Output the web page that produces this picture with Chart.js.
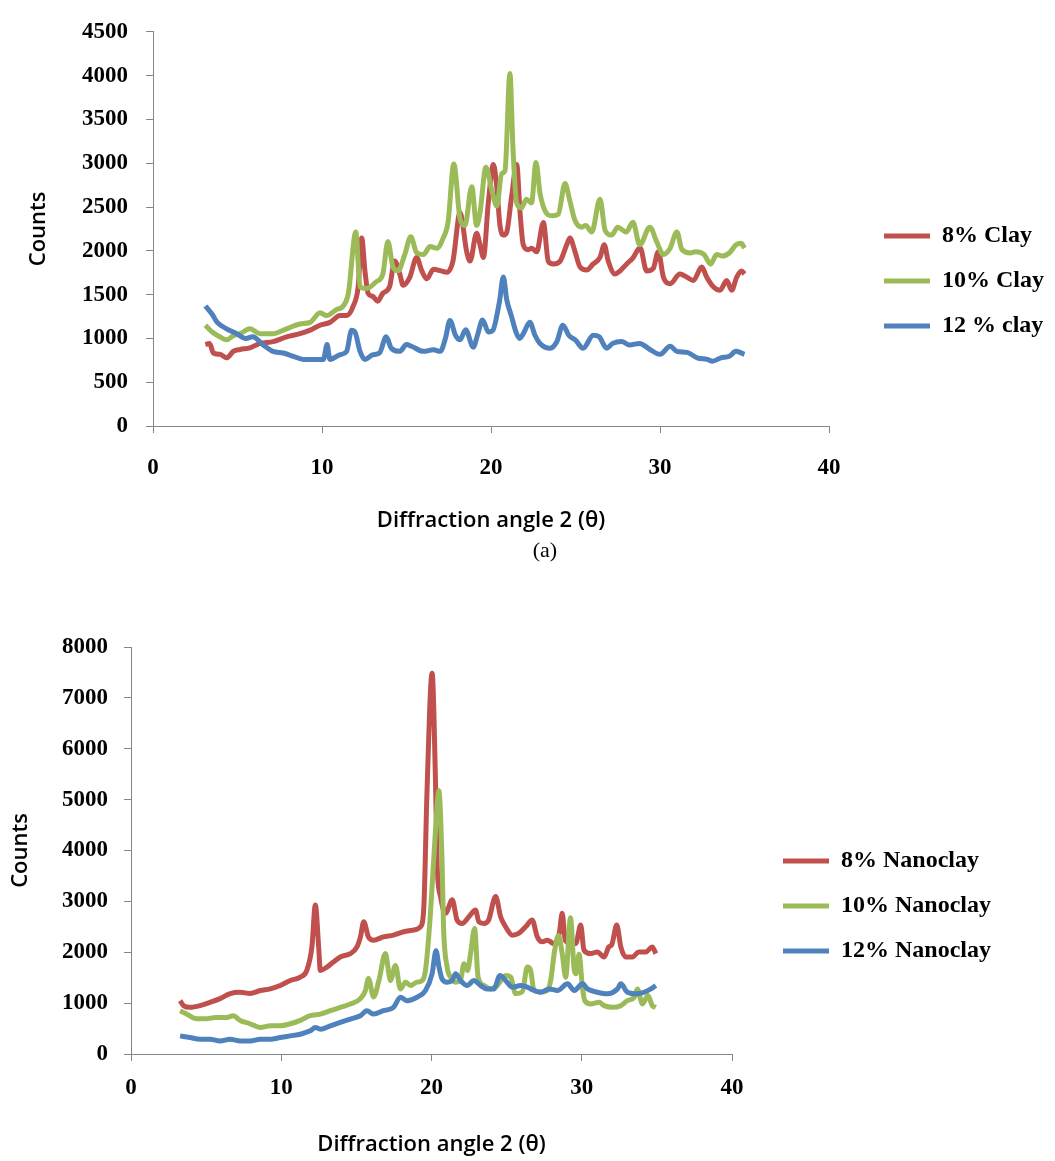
<!DOCTYPE html>
<html>
<head>
<meta charset="utf-8">
<script src="https://cdn.jsdelivr.net/npm/chart.js@4.4.1/dist/chart.umd.min.js"></script>
<style>
    body { margin: 0; background: #fff; }
    .page { position: relative; width: 1055px; height: 1161px; overflow: hidden; }
    #clayChart { position: absolute; left: 0; top: 0; }
    #nanoChart { position: absolute; left: 0; top: 600px; }
    .caption { position: absolute; left: 515px; width: 60px; top: 537px; text-align: center;
               font: 22px "Liberation Serif", serif; color: #000; line-height: 26px; }
</style>
</head>
<body>
<div class="page">
    <canvas id="clayChart" width="1055" height="545" style="width:1055px; height:545px;"></canvas>
    <div class="caption">(a)</div>
    <canvas id="nanoChart" width="1055" height="561" style="width:1055px; height:561px;"></canvas>
</div>
<script>
// 색상
const RED = '#C0504D', GREEN = '#9BBB59', BLUE = '#4F81BD', AXIS = '#868686';

// (a) 점토 - 회절각 / 카운트
const clay8Angle = [3.1, 3.35, 3.57, 3.96, 4.36, 4.75, 5.15, 5.74, 6.33, 7.1, 7.9, 8.7, 9.3, 9.88, 10.47, 11.07, 11.46, 11.85, 12.14, 12.35, 12.54, 12.73, 13.0, 13.3, 13.6, 14.0, 14.3, 14.6, 14.8, 15.2, 15.6, 15.9, 16.2, 16.6, 17.0, 17.4, 17.75, 18.17, 18.56, 18.76, 19.15, 19.35, 19.55, 19.84, 20.14, 20.34, 20.53, 20.73, 20.93, 21.22, 21.52, 21.72, 21.91, 22.21, 22.41, 22.7, 23.1, 23.39, 23.69, 24.08, 24.48, 24.67, 24.97, 25.27, 25.66, 26.05, 26.45, 26.7, 26.94, 27.34, 27.63, 28.03, 28.4, 28.82, 29.21, 29.6, 29.9, 30.2, 30.6, 31.18, 31.58, 31.97, 32.47, 32.76, 33.15, 33.55, 33.95, 34.24, 34.54, 34.83, 35.0];
const clay8Count = [929, 943, 833, 818, 778, 852, 874, 892, 943, 963, 1018, 1054, 1094, 1150, 1183, 1260, 1260, 1370, 1590, 2145, 1773, 1515, 1480, 1425, 1515, 1590, 1884, 1736, 1607, 1700, 1924, 1773, 1680, 1790, 1773, 1755, 1884, 2437, 1990, 1884, 2200, 2068, 1924, 2545, 2986, 2732, 2290, 2179, 2212, 2621, 2986, 2433, 2068, 2013, 2030, 1990, 2322, 1880, 1850, 1880, 2068, 2145, 1990, 1814, 1780, 1850, 1924, 2068, 1880, 1736, 1770, 1850, 1920, 2035, 1770, 1800, 1990, 1700, 1625, 1736, 1700, 1660, 1814, 1700, 1590, 1550, 1660, 1550, 1700, 1770, 1736];

const clay10Angle = [3.1, 3.5, 3.96, 4.36, 4.75, 5.15, 5.74, 6.33, 7.1, 7.9, 8.7, 9.3, 9.88, 10.27, 10.87, 11.26, 11.56, 12.0, 12.25, 12.64, 13.2, 13.6, 13.9, 14.2, 14.5, 14.9, 15.25, 15.6, 16.0, 16.4, 16.8, 17.17, 17.46, 17.8, 18.17, 18.46, 18.86, 19.15, 19.35, 19.7, 20.04, 20.34, 20.63, 20.83, 21.12, 21.3, 21.52, 21.8, 22.1, 22.4, 22.66, 22.9, 23.2, 23.6, 23.98, 24.38, 24.67, 24.97, 25.37, 25.6, 25.96, 26.45, 26.75, 27.14, 27.5, 28.0, 28.4, 28.8, 29.4, 29.8, 30.2, 30.6, 31.0, 31.3, 31.8, 32.1, 32.6, 33.0, 33.35, 33.7, 34.1, 34.5, 34.8, 35.0];
const clay10Count = [1150, 1073, 1018, 984, 1030, 1054, 1109, 1054, 1054, 1109, 1165, 1183, 1294, 1260, 1331, 1370, 1515, 2215, 1590, 1570, 1646, 1736, 2105, 1814, 1773, 1958, 2160, 1980, 1958, 2050, 2030, 2145, 2326, 2990, 2365, 2290, 2732, 2290, 2437, 2953, 2699, 2510, 2879, 2916, 4025, 3174, 2547, 2490, 2588, 2547, 3008, 2658, 2455, 2400, 2418, 2768, 2566, 2345, 2270, 2290, 2215, 2588, 2235, 2180, 2270, 2215, 2326, 2068, 2270, 2105, 1958, 2030, 2215, 2013, 1975, 1990, 1958, 1850, 1958, 1940, 1975, 2068, 2085, 2030];

const clay12Angle = [3.1, 3.5, 3.8, 4.36, 4.95, 5.5, 5.9, 6.5, 7.1, 7.7, 8.3, 8.9, 9.5, 10.08, 10.3, 10.47, 11.07, 11.46, 11.75, 11.95, 12.25, 12.54, 13.0, 13.4, 13.8, 14.1, 14.6, 15.0, 15.3, 16.0, 16.6, 17.0, 17.3, 17.57, 17.9, 18.17, 18.5, 18.95, 19.2, 19.5, 19.85, 20.1, 20.5, 20.73, 20.93, 21.2, 21.5, 21.7, 21.9, 22.3, 22.6, 22.9, 23.5, 23.9, 24.25, 24.6, 25.0, 25.45, 26.05, 26.4, 26.85, 27.2, 27.73, 28.2, 28.8, 29.4, 30.0, 30.6, 31.0, 31.6, 32.2, 32.8, 33.1, 33.6, 34.1, 34.5, 35.0];
const clay12Count = [1370, 1275, 1183, 1109, 1054, 998, 1018, 929, 852, 833, 796, 760, 760, 760, 929, 760, 814, 852, 1094, 1073, 852, 760, 814, 833, 1018, 888, 852, 929, 910, 852, 870, 852, 998, 1205, 1036, 984, 1100, 900, 1036, 1210, 1073, 1090, 1420, 1700, 1441, 1260, 1060, 1000, 1050, 1183, 1036, 943, 888, 965, 1150, 1036, 980, 888, 1036, 1018, 888, 943, 965, 925, 943, 874, 818, 910, 852, 840, 778, 760, 740, 778, 796, 852, 818];

// (b) 나노점토 - 회절각 / 카운트
const nano8Angle = [3.27, 3.5, 3.93, 4.6, 5.27, 5.93, 6.6, 7.27, 7.93, 8.6, 9.27, 9.93, 10.6, 11.27, 11.7, 12.04, 12.27, 12.49, 12.6, 13.04, 13.47, 13.93, 14.6, 15.04, 15.27, 15.49, 15.8, 16.15, 16.8, 17.47, 18.15, 18.8, 19.27, 19.49, 19.7, 20.04, 20.27, 20.38, 20.6, 20.93, 21.38, 21.7, 22.04, 22.49, 22.93, 23.15, 23.49, 23.8, 24.27, 24.6, 24.93, 25.38, 25.8, 26.27, 26.7, 27.04, 27.38, 27.7, 28.15, 28.5, 28.7, 28.9, 29.38, 29.6, 29.93, 30.15, 30.6, 31.04, 31.49, 31.8, 32.0, 32.33, 32.6, 32.93, 33.38, 33.8, 34.27, 34.7, 34.93];
const nano8Count = [1049, 950, 917, 950, 1016, 1089, 1188, 1214, 1188, 1247, 1280, 1346, 1445, 1511, 1643, 2105, 2930, 2105, 1643, 1709, 1808, 1907, 1973, 2105, 2303, 2600, 2303, 2237, 2303, 2336, 2402, 2435, 2501, 2897, 5148, 7484, 5300, 3689, 3095, 2765, 3030, 2633, 2567, 2699, 2831, 2600, 2567, 2633, 3095, 2699, 2501, 2336, 2370, 2501, 2633, 2303, 2204, 2237, 2171, 2369, 2765, 2237, 2171, 2171, 2534, 2039, 1973, 2006, 1907, 2105, 2150, 2534, 2105, 1907, 1907, 2006, 2006, 2105, 1973];

const nano10Angle = [3.27, 3.7, 4.38, 5.0, 5.6, 6.38, 6.8, 7.27, 7.93, 8.6, 9.27, 9.93, 10.6, 11.27, 11.93, 12.6, 13.27, 13.93, 14.6, 15.27, 15.6, 15.8, 16.15, 16.5, 16.93, 17.27, 17.6, 17.93, 18.27, 18.6, 19.04, 19.38, 19.6, 19.93, 20.27, 20.49, 20.7, 20.8, 21.04, 21.27, 21.6, 21.93, 22.16, 22.4, 22.6, 22.87, 23.1, 23.49, 23.93, 24.38, 24.93, 25.27, 25.6, 26.04, 26.38, 26.6, 26.82, 27.27, 27.7, 27.93, 28.2, 28.45, 28.7, 28.93, 29.25, 29.5, 29.62, 29.82, 30.05, 30.2, 30.6, 31.15, 31.49, 32.05, 32.6, 33.04, 33.5, 33.7, 34.04, 34.4, 34.7, 34.93];
const nano10Count = [851, 785, 693, 693, 719, 719, 752, 660, 594, 521, 554, 554, 594, 660, 752, 785, 851, 917, 983, 1089, 1247, 1485, 1122, 1445, 1973, 1445, 1742, 1280, 1412, 1346, 1412, 1445, 1643, 2765, 4415, 5174, 3821, 2501, 1709, 1511, 1412, 1445, 1775, 1643, 1973, 2468, 1511, 1346, 1280, 1346, 1544, 1511, 1188, 1221, 1709, 1643, 1247, 1221, 1247, 1445, 2039, 2330, 1973, 1511, 2680, 1650, 1577, 1960, 1300, 1049, 983, 1016, 950, 917, 950, 1049, 1115, 1280, 983, 1148, 950, 917];

const nano12Angle = [3.27, 3.93, 4.6, 5.27, 5.93, 6.6, 7.27, 7.93, 8.6, 9.27, 9.93, 10.6, 11.27, 11.93, 12.27, 12.6, 13.27, 13.93, 14.6, 15.27, 15.7, 16.15, 16.8, 17.47, 17.93, 18.38, 19.04, 19.6, 20.04, 20.3, 20.5, 20.7, 21.04, 21.38, 21.6, 21.93, 22.38, 22.82, 23.27, 23.7, 24.15, 24.56, 24.93, 25.38, 25.93, 26.38, 26.6, 27.27, 27.82, 28.38, 29.05, 29.5, 30.05, 30.38, 31.04, 31.7, 32.38, 32.6, 33.04, 33.7, 34.15, 34.6, 34.93];
const nano12Count = [356, 323, 290, 290, 257, 290, 257, 257, 290, 290, 323, 356, 389, 455, 521, 488, 554, 620, 686, 752, 851, 785, 851, 917, 1115, 1049, 1115, 1247, 1577, 2030, 1709, 1478, 1412, 1445, 1577, 1445, 1346, 1445, 1346, 1280, 1280, 1544, 1445, 1313, 1346, 1313, 1280, 1214, 1280, 1247, 1379, 1247, 1379, 1280, 1214, 1182, 1280, 1379, 1214, 1182, 1214, 1280, 1346];

// 범례 / 눈금
const clayLabels = ['8% Clay', '10% Clay', '12 % clay'];
const nanoLabels = ['8% Nanoclay', '10% Nanoclay', '12% Nanoclay'];
const angleTicks = [0, 10, 20, 30, 40];
const clayCountTicks = [0, 500, 1000, 1500, 2000, 2500, 3000, 3500, 4000, 4500];
const nanoCountTicks = [0, 1000, 2000, 3000, 4000, 5000, 6000, 7000, 8000];

const tickFont = { family: "'Liberation Serif', serif", weight: 'bold', size: 23 };
const titleFont = { family: "'Open Sans', sans-serif", weight: '600', size: 22 };
const legendFont = { family: "'Liberation Serif', serif", weight: 'bold', size: 24 };

// 선 하나
function series(label, color, xs, ys, order) {
    return {
        label: label,
        data: xs.map((x, i) => ({ x: x, y: ys[i] })),
        borderColor: color,
        backgroundColor: color,
        borderWidth: 5,
        pointRadius: 0,
        fill: false,
        cubicInterpolationMode: 'monotone',
        order: order
    };
}

// 범례 위치를 그림대로 옮긴다
const legendSpot = {
    id: 'legendSpot',
    afterLayout(chart, args, opts) {
        const lg = chart.legend;
        if (!lg || opts.left == null) return;
        lg.width = opts.width;
        lg.left = opts.left; lg.right = opts.left + opts.width;
        lg.top = opts.top; lg.bottom = opts.top + 200;
        lg.height = 200;
    }
};

function legendOpts() {
    return {
        position: 'right',
        align: 'start',
        maxWidth: 100,
        labels: {
            boxWidth: 46,
            boxHeight: 5,
            padding: 21,
            color: '#000',
            font: legendFont,
            generateLabels(chart) {
                return Chart.defaults.plugins.legend.labels.generateLabels(chart)
                    .sort((a, b) => a.datasetIndex - b.datasetIndex)
                    .map(item => Object.assign(item, { fillStyle: item.strokeStyle, lineWidth: 0 }));
            }
        }
    };
}

function scalesFor(yTicks, yWidth, xHeight, yPad, xPad) {
    return {
        x: {
            type: 'linear',
            min: 0, max: 40,
            afterBuildTicks(scale) { scale.ticks = angleTicks.map(v => ({ value: v })); },
            afterFit(scale) { scale.height = xHeight; },
            border: { color: AXIS, width: 1 },
            grid: { drawOnChartArea: false, tickLength: 7, color: AXIS },
            ticks: { color: '#000', font: tickFont, padding: xPad, maxRotation: 0, callback: v => String(v) },
            title: { display: true, text: 'Diffraction angle 2 (θ)', color: '#000', font: titleFont, padding: { top: 0, bottom: 3 } }
        },
        y: {
            type: 'linear',
            min: 0, max: yTicks[yTicks.length - 1],
            afterBuildTicks(scale) { scale.ticks = yTicks.map(v => ({ value: v })); },
            afterFit(scale) { scale.width = yWidth; },
            border: { color: AXIS, width: 1 },
            grid: { drawOnChartArea: false, tickLength: 7, color: AXIS },
            ticks: { color: '#000', font: tickFont, padding: yPad, callback: v => String(v) },
            title: { display: true, text: 'Counts', color: '#000', font: titleFont, padding: { top: 0, bottom: 0 } }
        }
    };
}

// (a) 점토 그래프
new Chart(document.getElementById('clayChart'), {
    type: 'line',
    data: {
        datasets: [
            series(clayLabels[0], RED, clay8Angle, clay8Count, 2),
            series(clayLabels[1], GREEN, clay10Angle, clay10Count, 1),
            series(clayLabels[2], BLUE, clay12Angle, clay12Count, 0)
        ]
    },
    plugins: [legendSpot],
    options: {
        responsive: false,
        animation: false,
        layout: { padding: { left: 26, top: 19, right: 126, bottom: 8 } },
        scales: scalesFor(clayCountTicks, 127, 111, 18, 21),
        plugins: {
            legend: legendOpts(),
            legendSpot: { left: 863, top: 203, width: 192 },
            tooltip: { enabled: false }
        }
    }
});

// (b) 나노점토 그래프
new Chart(document.getElementById('nanoChart'), {
    type: 'line',
    data: {
        datasets: [
            series(nanoLabels[0], RED, nano8Angle, nano8Count, 2),
            series(nanoLabels[1], GREEN, nano10Angle, nano10Count, 1),
            series(nanoLabels[2], BLUE, nano12Angle, nano12Count, 0)
        ]
    },
    plugins: [legendSpot],
    options: {
        responsive: false,
        animation: false,
        layout: { padding: { left: 8, top: 47, right: 223, bottom: 0 } },
        scales: scalesFor(nanoCountTicks, 123, 107, 16, 13),
        plugins: {
            legend: legendOpts(),
            legendSpot: { left: 762, top: 228, width: 293 },
            tooltip: { enabled: false }
        }
    }
});
</script>
</body>
</html>
